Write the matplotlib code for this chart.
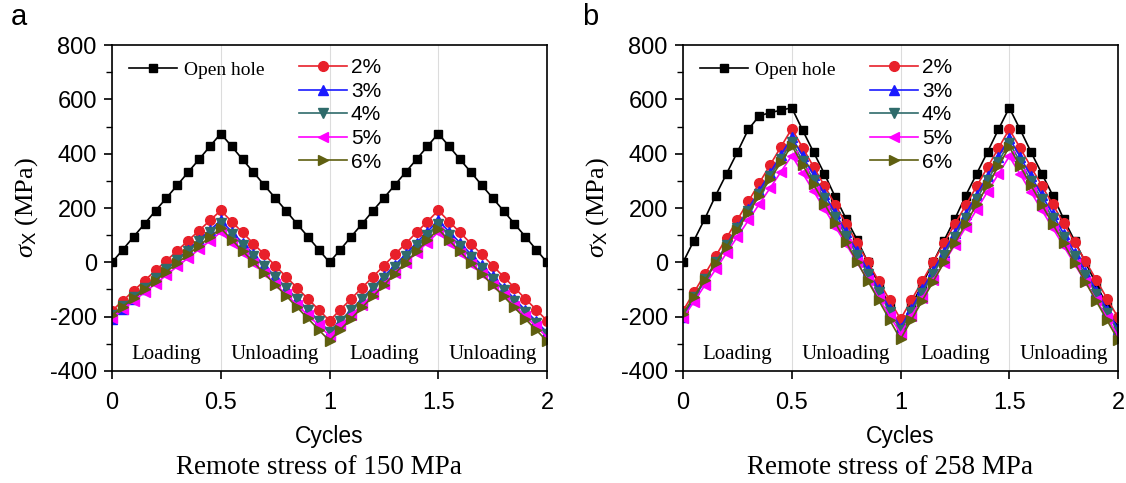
import numpy as np
import matplotlib
matplotlib.use("Agg")
import matplotlib.pyplot as plt
from matplotlib.ticker import MultipleLocator

plt.rcParams['axes.unicode_minus'] = False
plt.rcParams['font.family'] = ['Liberation Sans', 'DejaVu Sans']
plt.rcParams['mathtext.fontset'] = 'custom'
plt.rcParams['mathtext.rm'] = 'Liberation Serif'
plt.rcParams['mathtext.it'] = 'Liberation Serif:italic'
plt.rcParams['mathtext.sf'] = 'Liberation Sans'

# sampling grid: 41 points, 0..2 cycles
cycles = np.linspace(0, 2, 41)

series_labels = ["Open hole", "2%", "3%", "4%", "5%", "6%"]

# panel a: remote stress 150 MPa
open_a = [0, 47, 95, 142, 190, 237, 284, 332, 379, 427, 474, 427, 379, 332, 284, 237, 190, 142, 95, 47, 0,
          47, 95, 142, 190, 237, 284, 332, 379, 427, 474, 427, 379, 332, 284, 237, 190, 142, 95, 47, 0]
p2_a = [-178, -141, -104, -67, -30, 6, 43, 80, 117, 154, 191, 150, 110, 69, 29, -12, -53, -93, -134, -174, -215,
        -174, -134, -93, -53, -12, 29, 69, 110, 150, 191, 150, 110, 69, 29, -12, -53, -93, -134, -174, -215]
p3_a = [-207, -171, -135, -99, -63, -27, 10, 46, 82, 118, 154, 113, 72, 30, -11, -52, -93, -134, -176, -217, -258,
        -217, -176, -134, -93, -52, -11, 30, 72, 113, 154, 113, 72, 30, -11, -52, -93, -134, -176, -217, -258]
p4_a = [-195, -161, -127, -93, -59, -25, 9, 43, 77, 111, 145, 105, 65, 25, -15, -55, -95, -135, -175, -215, -255,
        -215, -176, -136, -96, -57, -17, 23, 63, 102, 142, 101, 61, 20, -21, -62, -102, -143, -184, -224, -265]
p5_a = [-205, -173, -142, -110, -79, -47, -15, 16, 48, 79, 111, 73, 35, -3, -41, -80, -118, -156, -194, -232, -270,
        -232, -194, -156, -118, -80, -41, -3, 35, 73, 111, 72, 34, -5, -43, -82, -121, -159, -198, -236, -275]
p6_a = [-195, -163, -131, -99, -67, -35, -3, 29, 61, 93, 125, 84, 42, 1, -41, -82, -123, -165, -206, -248, -289,
        -248, -207, -166, -125, -84, -42, -1, 40, 81, 122, 81, 40, -2, -43, -84, -125, -166, -208, -249, -290]

# panel b: remote stress 258 MPa
open_b = [0, 80, 160, 246, 326, 406, 489, 539, 551, 560, 569, 486, 406, 326, 240, 160, 84, 0, -80, -160, -240,
          -160, -80, 0, 80, 160, 246, 326, 406, 489, 569, 489, 406, 326, 246, 160, 80, 0, -80, -160, -240]
p2_b = [-178, -111, -44, 23, 90, 157, 224, 291, 358, 425, 492, 422, 352, 282, 212, 142, 71, 1, -69, -139, -209,
        -139, -69, 1, 71, 141, 210, 280, 350, 420, 490, 421, 351, 282, 213, 144, 74, 5, -64, -134, -203]
p3_b = [-200, -134, -68, -2, 64, 130, 197, 263, 329, 395, 461, 391, 321, 251, 181, 110, 40, -30, -100, -170, -240,
        -170, -100, -31, 39, 109, 179, 249, 318, 388, 458, 388, 317, 247, 177, 106, 36, -34, -104, -175, -245]
p4_b = [-190, -127, -63, 0, 63, 127, 190, 253, 316, 380, 443, 374, 304, 235, 166, 97, 27, -42, -111, -181, -250,
        -181, -112, -43, 26, 95, 164, 233, 302, 371, 440, 371, 301, 232, 162, 93, 23, -47, -116, -186, -255]
p5_b = [-205, -145, -85, -26, 34, 94, 154, 214, 273, 333, 393, 328, 262, 197, 131, 66, 0, -66, -131, -197, -262,
        -197, -132, -66, -1, 64, 129, 194, 260, 325, 390, 324, 258, 192, 126, 60, -6, -72, -138, -204, -270]
p6_b = [-190, -128, -66, -4, 58, 120, 182, 244, 306, 368, 430, 359, 287, 216, 145, 74, 2, -69, -140, -212, -283,
        -212, -141, -71, 0, 71, 142, 213, 283, 354, 425, 354, 283, 212, 141, 70, -1, -72, -143, -214, -285]

phase_labels = ["Loading", "Unloading", "Loading", "Unloading"]
phase_centers = [0.25, 0.75, 1.25, 1.75]

colors = ["black", "#e8202a", "#1a1aff", "#2f6b6b", "#ff00ff", "#5f5f10"]
markers = ["s", "o", "^", "v", "<", ">"]
msizes = [6, 7, 7, 7, 7, 7]

fig = plt.figure(figsize=(11.26, 4.83), dpi=100)
panels = [
    (0.0995, "a", "Remote stress of 150 MPa", [open_a, p2_a, p3_a, p4_a, p5_a, p6_a]),
    (0.6066, "b", "Remote stress of 258 MPa", [open_b, p2_b, p3_b, p4_b, p5_b, p6_b]),
]

for left, letter, caption, data in panels:
    ax = fig.add_axes([left, 0.2319, 0.3863, 0.6749])
    lines = []
    for vals, lab, c, m, ms in zip(data, series_labels, colors, markers, msizes):
        ln, = ax.plot(cycles, vals, color=c, marker=m, markersize=ms, lw=1.2, label=lab)
        lines.append(ln)

    ax.set_xlim(0, 2)
    ax.set_ylim(-400, 800)
    ax.yaxis.set_major_locator(MultipleLocator(200))
    ax.yaxis.set_minor_locator(MultipleLocator(100))
    ax.set_xticks([0, 0.5, 1, 1.5, 2])
    ax.set_xticklabels(["0", "0.5", "1", "1.5", "2"])
    ax.tick_params(axis='both', which='major', direction='out', length=6, width=1.2, labelsize=17)
    ax.tick_params(axis='x', which='major', pad=9)
    ax.tick_params(axis='y', which='major', pad=5)
    ax.tick_params(axis='y', which='minor', direction='out', length=4, width=1.0)
    ax.tick_params(top=False, right=False)
    for sp in ax.spines.values():
        sp.set_linewidth(1.2)
    ax.grid(axis='x', color='#dcdcdc', lw=0.8)
    ax.set_axisbelow(True)

    for lab, xc in zip(phase_labels, phase_centers):
        ax.text(xc, -338, lab, ha='center', va='center', fontsize=15,
                family='Liberation Serif')

    ax.set_xlabel("Cycles", fontsize=16.5, labelpad=8)
    ax.set_ylabel(r"$\mathit{\sigma}_{\mathsf{X}}$ (MPa)", fontsize=19, family='Liberation Serif', labelpad=7)

    leg1 = ax.legend(handles=lines[:1], loc='center left', bbox_to_anchor=(0.02, 0.923),
                     frameon=False, handlelength=2.5, handletextpad=0.35, borderaxespad=0,
                     prop={'family': 'Liberation Serif', 'size': 14})
    ax.add_artist(leg1)
    ax.legend(handles=lines[1:], loc='upper left', bbox_to_anchor=(0.41, 0.985),
              frameon=False, handlelength=2.3, handletextpad=0.2, borderaxespad=0,
              labelspacing=0.22, prop={'family': 'Liberation Sans', 'size': 15})

    fig.text(left - 0.09, 0.935, letter, fontsize=21, ha='left', va='bottom')
    fig.text(left + 0.3863 / 2 - 0.009, 0.033, caption, fontsize=19.5, ha='center', va='center',
             family='Liberation Serif')

fig.savefig("out.png", dpi=100)
